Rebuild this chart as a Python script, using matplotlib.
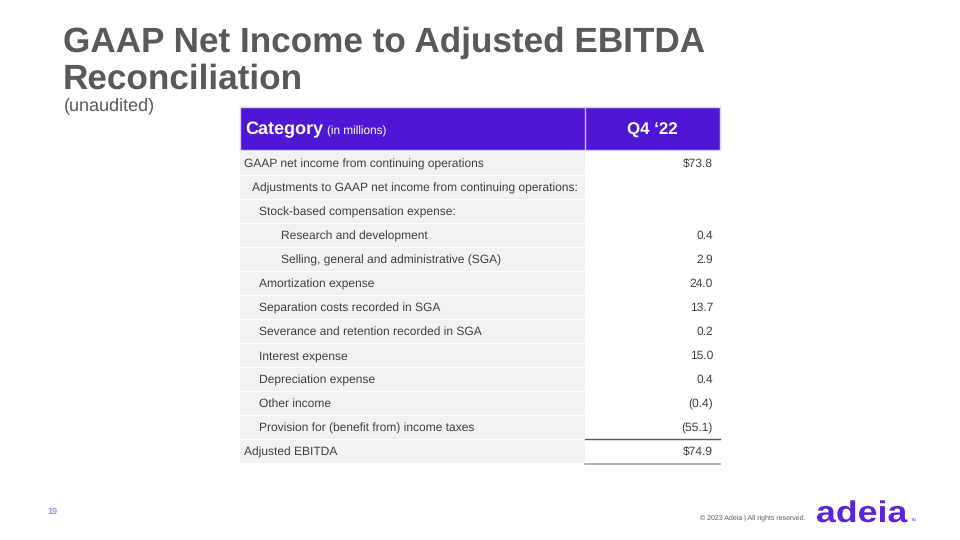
import matplotlib.pyplot as plt
from matplotlib.patches import Rectangle, PathPatch
from matplotlib.textpath import TextPath
from matplotlib.font_manager import FontProperties
from matplotlib.transforms import Affine2D

plt.rcParams['font.family'] = ['Liberation Sans', 'DejaVu Sans']
plt.rcParams['text.hinting'] = 'no_hinting'

title_lines = ['GAAP Net Income to Adjusted EBITDA', 'Reconciliation']
subtitle = '(unaudited)'
col_head = 'Q4 \u201822'

labels = ['GAAP net income from continuing operations',
          'Adjustments to GAAP net income from continuing operations:',
          'Stock-based compensation expense:',
          'Research and development',
          'Selling, general and administrative (SGA)',
          'Amortization expense',
          'Separation costs recorded in SGA',
          'Severance and retention recorded in SGA',
          'Interest expense',
          'Depreciation expense',
          'Other income',
          'Provision for (benefit from) income taxes',
          'Adjusted EBITDA']
indent = [0, 1, 2, 3, 3, 2, 2, 2, 2, 2, 2, 2, 0]
values = [73.8, None, None, 0.4, 2.9, 24.0, 13.7, 0.2, 15.0, 0.4, -0.4, -55.1, 74.9]
dollar = [True] + [False] * 11 + [True]

purple = '#5016d6'
grey_txt = '#595959'
cell_txt = '#404040'

def fmt(v, d):
    if v is None:
        return ''
    s = f'{abs(v):.1f}'
    if d:
        s = '$' + s
    if v < 0:
        s = '(' + s + ')'
    return s

fig = plt.figure(figsize=(9.6, 5.4), dpi=100)
ax = fig.add_axes([0, 0, 1, 1])
ax.set_xlim(0, 960)
ax.set_ylim(540, 0)
ax.axis('off')

# title block
for k, line in enumerate(title_lines):
    ax.text(63, 52 + 37 * k, line, fontsize=25.3, fontweight='bold', color=grey_txt,
            va='baseline')
ax.text(64, 110, subtitle, fontsize=13, color=grey_txt, va='baseline')

# table geometry
x0, xs, x1 = 240, 585, 720
hy0, hy1 = 107, 150
rh = 24

ax.add_patch(Rectangle((x0, hy0), x1 - x0, hy1 - hy0, facecolor=purple,
                       edgecolor='#d8d0f4', lw=1))
ax.plot([xs, xs], [hy0, hy1], color='#c8bdf0', lw=1)
ax.text(245, 130, 'Category', fontsize=13, fontweight='bold', color='white', va='center')
ax.text(327, 131, '(in millions)', fontsize=8.5, color='white', va='center')
ax.text((xs + x1) / 2, 130, col_head, fontsize=12.2, fontweight='bold', color='white',
        va='center', ha='center')

indent_px = [4, 12, 19, 41]
for i, (lab, lv, v, d) in enumerate(zip(labels, indent, values, dollar)):
    top = hy1 + 2 + i * rh
    ax.add_patch(Rectangle((x0, top), xs - x0, rh - 1, facecolor='#f2f2f2',
                           edgecolor='none'))
    yc = top + rh / 2
    ax.text(x0 + indent_px[lv], yc, lab, fontsize=8.65, color=cell_txt, va='center')
    ax.text(x1 - 7, yc, fmt(v, d), fontsize=8.65, color=cell_txt, va='center', ha='right')

# total lines
top_last = hy1 + 2 + (len(labels) - 1) * rh
ax.plot([xs, x1], [top_last - 1, top_last - 1], color='#595959', lw=1)
ax.plot([xs, x1], [top_last + rh, top_last + rh], color='#a6a6a6', lw=1.2)

# footer
ax.text(47, 512, '19', fontsize=6.5, color='#a58cf0', fontweight='bold', va='center')
ax.text(700, 518, '\u00a9 2023 Adeia | All rights reserved.', fontsize=5, color='#595959',
        va='center')

# logo: wide, squat wordmark
logo = TextPath((0, 0), 'adeia', size=30, prop=FontProperties(family='Liberation Sans', weight='bold'))
logo = logo.transformed(Affine2D().scale(1.19, -1.0).translate(816, 522))
ax.add_patch(PathPatch(logo, facecolor='#5a23d8', edgecolor='none'))
ax.text(911, 520, 'TM', fontsize=3, color='#5a23d8', va='center')

fig.savefig('out.png', dpi=100)
